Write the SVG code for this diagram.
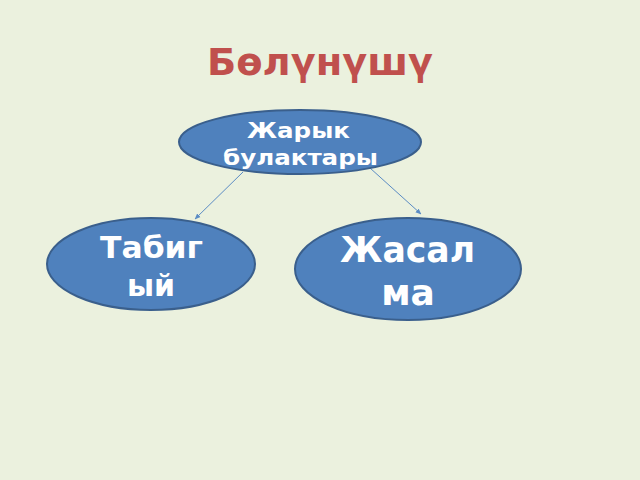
<svg xmlns="http://www.w3.org/2000/svg" width="640" height="480" viewBox="0 0 640 480">
<style>
.node{fill:#4F81BD;stroke:#3A5F8C;stroke-width:2}
.lbl{font-family:"DejaVu Sans",sans-serif;font-weight:bold;fill:#FFFFFF;text-anchor:middle}
.conn{stroke:#5B8CC4;stroke-width:1;fill:none;marker-end:url(#arr)}
</style>
<defs>
<marker id="arr" viewBox="0 0 10 10" refX="9" refY="5" markerWidth="6" markerHeight="6" orient="auto" markerUnits="userSpaceOnUse">
<path d="M0,1 L10,5 L0,9 z" fill="#5B8CC4"/>
</marker>
</defs>
<rect width="640" height="480" fill="#EBF1DE"/>
<text x="320" y="75" font-family="DejaVu Sans,sans-serif" font-weight="bold" font-size="37" fill="#C0504D" text-anchor="middle" textLength="226" lengthAdjust="spacingAndGlyphs">Бөлүнүшү</text>
<g id="connectors">
<line class="conn" x1="243" y1="172" x2="195" y2="219"/>
<line class="conn" x1="370" y1="168" x2="421" y2="214"/>
</g>
<g id="n-source">
<ellipse class="node" cx="300" cy="142" rx="121" ry="32"/>
<text class="lbl" x="298.5" y="138" font-size="21" textLength="103" lengthAdjust="spacingAndGlyphs">Жарык</text>
<text class="lbl" x="300.5" y="165" font-size="21" textLength="155" lengthAdjust="spacingAndGlyphs">булактары</text>
</g>
<g id="n-natural">
<ellipse class="node" cx="151" cy="264" rx="104" ry="46"/>
<text class="lbl" x="151.5" y="258" font-size="30" textLength="103" lengthAdjust="spacingAndGlyphs">Табиг</text>
<text class="lbl" x="151" y="296" font-size="30">ый</text>
</g>
<g id="n-artificial">
<ellipse class="node" cx="408" cy="269" rx="113" ry="51"/>
<text class="lbl" x="407.5" y="262" font-size="36" textLength="135" lengthAdjust="spacingAndGlyphs">Жасал</text>
<text class="lbl" x="408" y="305" font-size="36">ма</text>
</g>
</svg>
